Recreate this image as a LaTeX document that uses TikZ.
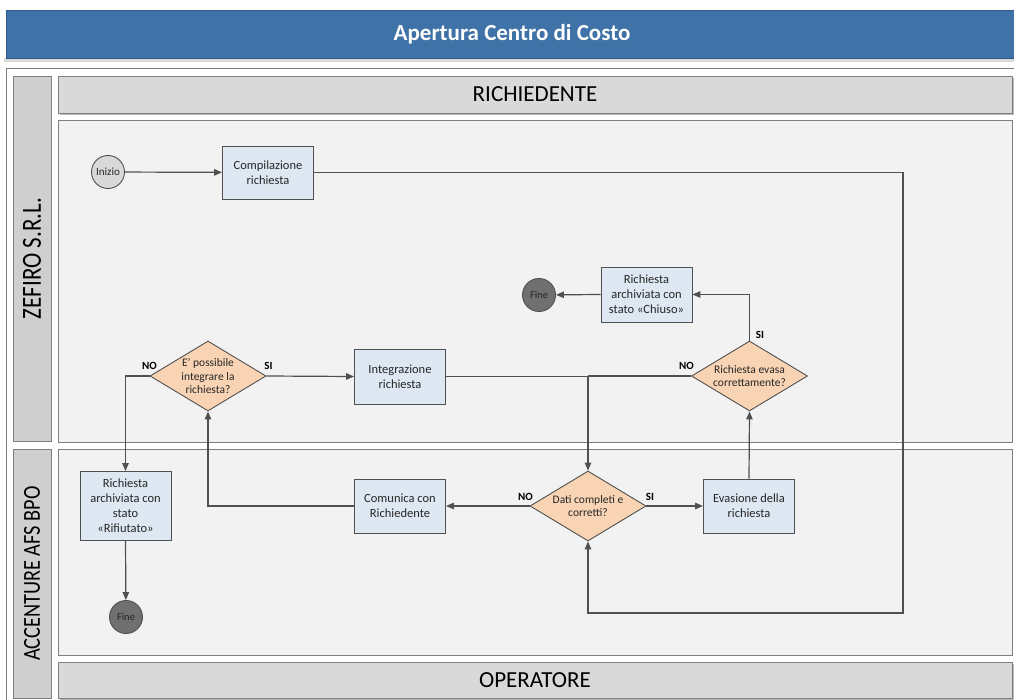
\documentclass[tikz,border=0pt]{standalone}
\usepackage{fontspec}
\usepackage{graphicx}
\setmainfont{Carlito}
\usetikzlibrary{shapes.geometric,arrows.meta}
\definecolor{titleblue}{HTML}{3F72A6}
\definecolor{titleedge}{HTML}{2F5A86}
\definecolor{framegray}{HTML}{7F7F7F}
\definecolor{lanefill}{HTML}{F2F2F2}
\definecolor{headfill}{HTML}{D9D9D9}
\definecolor{colfill}{HTML}{CFCFCF}
\definecolor{taskfill}{HTML}{DEE8F2}
\definecolor{decfill}{HTML}{F8D4B4}
\definecolor{startfill}{HTML}{D9D9D9}
\definecolor{endfill}{HTML}{707070}
\definecolor{linec}{HTML}{505050}
\definecolor{textc}{HTML}{262626}
\begin{document}
\begin{tikzpicture}[x=1pt,y=-1pt,
  lane/.style={draw=framegray, fill=lanefill, line width=0.9pt},
  header/.style={draw=framegray, fill=headfill, line width=0.9pt, inner sep=0,
    font=\fontsize{23}{25}\selectfont, text=black},
  labelcol/.style={draw=framegray, fill=colfill, line width=0.9pt, inner sep=0,
    rotate=90, text=black},
  task/.style={draw=linec, fill=taskfill, line width=0.9pt, align=center, inner sep=0,
    minimum width=91, font=\fontsize{12.5}{15}\selectfont, text=textc},
  decision/.style={diamond, draw=linec, fill=decfill, line width=0.9pt, align=center,
    inner sep=0, aspect=1.66, minimum width=116, minimum height=70,
    font=\fontsize{11.5}{13.5}\selectfont, text=textc},
  startev/.style={circle, draw=linec, fill=startfill, line width=0.9pt, inner sep=0,
    minimum size=33, font=\fontsize{11}{12}\selectfont, text=textc},
  endev/.style={circle, draw=linec, fill=endfill, line width=0.9pt, inner sep=0,
    minimum size=33, font=\fontsize{10.5}{12}\selectfont, text=textc},
  flow/.style={draw=linec, line width=1.2pt, -{Triangle[length=8pt,width=6.5pt]}},
  link/.style={draw=linec, line width=1.2pt},
  lbl/.style={font=\bfseries\fontsize{11}{12}\selectfont, text=black, inner sep=0}]
\useasboundingbox (0,0) rectangle (1014,700);

% title bar with its light shadow
\fill[headfill] (4,58) rectangle (1016,62);
\node[draw=titleedge, fill=titleblue, line width=0.8pt, inner sep=0,
  minimum width=1012, minimum height=48, text=white,
  font=\bfseries\fontsize{23}{25}\selectfont] (title) at (512,34) {Apertura Centro di Costo};

% outer frame
\draw[framegray, line width=0.9pt, fill=white] (6,68) rectangle (1018,704);

% lane name columns (glyphs drawn a little taller)
\node[labelcol, minimum width=365, minimum height=38, font=\fontsize{23}{25}\selectfont]
  (zefcol) at (32,258.5) {\scalebox{1}[1.2]{ZEFIRO S.R.L.}};
\node[labelcol, minimum width=249, minimum height=38, font=\fontsize{20.3}{22}\selectfont]
  (acccol) at (32,573.5) {\scalebox{1}[1.2]{ACCENTURE AFS BPO}};

% role headers and lane bodies
\fill[gray!55] (60,78) rectangle (1014,115);
\node[header, minimum width=954, minimum height=37] (richhdr) at (535,94.5) {RICHIEDENTE};
\draw[lane] (58,120) rectangle (1012,442);
\draw[lane] (58,449) rectangle (1012,655);
\fill[gray!55] (60,664) rectangle (1014,700);
\node[header, minimum width=954, minimum height=36] (ophdr) at (535,680) {OPERATORE};

% events
\node[startev] (inizio) at (108,172) {Inizio};
\node[endev] (fineA) at (539,295) {Fine};
\node[endev] (fineB) at (126,617) {Fine};

% tasks
\node[task, minimum height=53] (compil) at (268,172.5) {Compilazione\\richiesta};
\node[task, minimum height=55] (integr) at (400,376.5) {Integrazione\\richiesta};
\node[task, minimum height=54] (comun) at (400,506) {Comunica con\\Richiedente};
\node[task, minimum height=54] (evas) at (749,506) {Evasione della\\richiesta};
\node[task, minimum height=55] (chiuso) at (646.5,294.5) {Richiesta\\archiviata con\\stato «Chiuso»};
\node[task, minimum height=69] (rifiut) at (125.5,506) {Richiesta\\archiviata con\\stato\\«Rifiutato»};

% decisions
\node[decision] (poss) at (208,376) {E’ possibile\\integrare la\\richiesta?};
\node[decision] (evasa) at (749.5,376) {Richiesta evasa\\correttamente?};
\node[decision] (dati) at (588,506) {Dati completi e\\corretti?};

% turning point of the long return loop
\coordinate (loopR) at (903,613);

% connectors
\draw[flow] (inizio) -- (compil);
\draw[flow] (compil.east) -| (loopR) -| (dati.south);
\draw[flow] (dati.west) -- (comun.east);
\draw[flow] (dati.east) -- (evas.west);
\draw[flow] (comun.west) -| (poss.south);
\draw[flow] (poss.east) -- (integr.west);
\draw[flow] (poss.west) -| (rifiut.north);
\draw[flow] (integr.east) -| (dati.north);
\draw[link] (evasa.west) -- (evasa.west -| dati.north);
\draw[flow] (evas.north) -- (evasa.south);
\draw[flow] (evasa.north) |- (chiuso.east);
\draw[flow] (chiuso.west) -- (fineA);
\draw[flow] (rifiut.south) -- (fineB);

% branch labels
\node[lbl] (possNo) at (149.5,366) {NO};
\node[lbl] (possSi) at (268.5,366) {SI};
\node[lbl] (evasaNo) at (686.5,366) {NO};
\node[lbl] (evasaSi) at (760,334.5) {SI};
\node[lbl] (datiNo) at (525.5,497) {NO};
\node[lbl] (datiSi) at (650,497) {SI};
\end{tikzpicture}
\end{document}
